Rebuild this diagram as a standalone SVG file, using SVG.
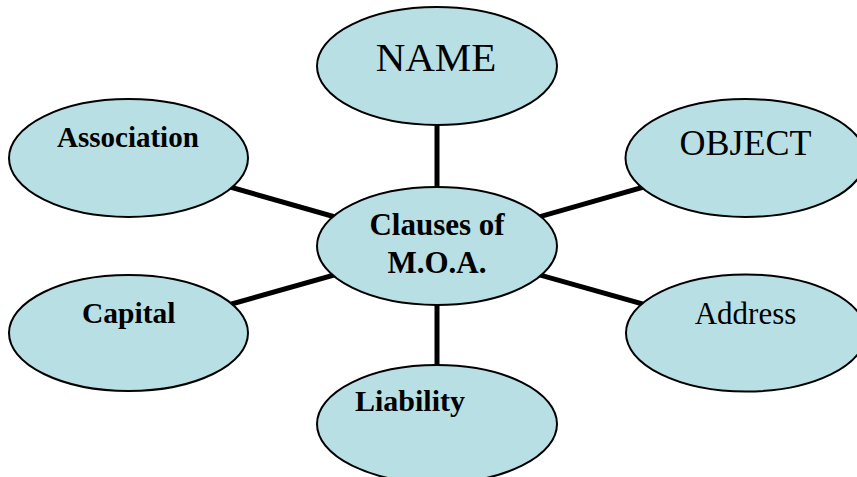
<svg xmlns="http://www.w3.org/2000/svg" width="857" height="477" viewBox="0 0 857 477">
<style>
.node ellipse{fill:#b8dfe3;stroke:#000;stroke-width:2}
.conn line{stroke:#000;stroke-width:5}
text{font-family:"Liberation Serif","Times New Roman",serif;fill:#000}
.b{font-weight:bold}
</style>
<rect width="857" height="477" fill="#fff"/>
<g id="connectors" class="conn">
<line x1="437" y1="66" x2="437" y2="246"/>
<line x1="437" y1="246" x2="437" y2="424"/>
<line x1="128.5" y1="158" x2="437" y2="246"/>
<line x1="128.5" y1="333" x2="437" y2="246"/>
<line x1="745.5" y1="158" x2="437" y2="246"/>
<line x1="745.5" y1="333" x2="437" y2="246"/>
</g>
<g id="name" class="node"><ellipse cx="437" cy="66" rx="120" ry="59"/><text x="436" y="71" font-size="41" text-anchor="middle">NAME</text></g>
<g id="association" class="node"><ellipse cx="128.5" cy="158" rx="119.5" ry="59"/><text class="b" x="57" y="147" font-size="29">Association</text></g>
<g id="object" class="node"><ellipse cx="745.5" cy="158" rx="120" ry="59"/><text x="745.5" y="155" font-size="36" text-anchor="middle">OBJECT</text></g>
<g id="center" class="node"><ellipse cx="437" cy="246" rx="120" ry="59"/><text class="b" x="437" y="235" font-size="31" text-anchor="middle">Clauses of</text><text class="b" x="437" y="273" font-size="31" text-anchor="middle">M.O.A.</text></g>
<g id="capital" class="node"><ellipse cx="128.5" cy="333" rx="119.5" ry="58"/><text class="b" x="82" y="323" font-size="29.5">Capital</text></g>
<g id="address" class="node"><ellipse cx="746" cy="333" rx="120" ry="58.5"/><text x="745.5" y="324" font-size="31" text-anchor="middle">Address</text></g>
<g id="liability" class="node"><ellipse cx="437" cy="424" rx="120" ry="59"/><text class="b" x="355" y="411" font-size="30">Liability</text></g>
</svg>
